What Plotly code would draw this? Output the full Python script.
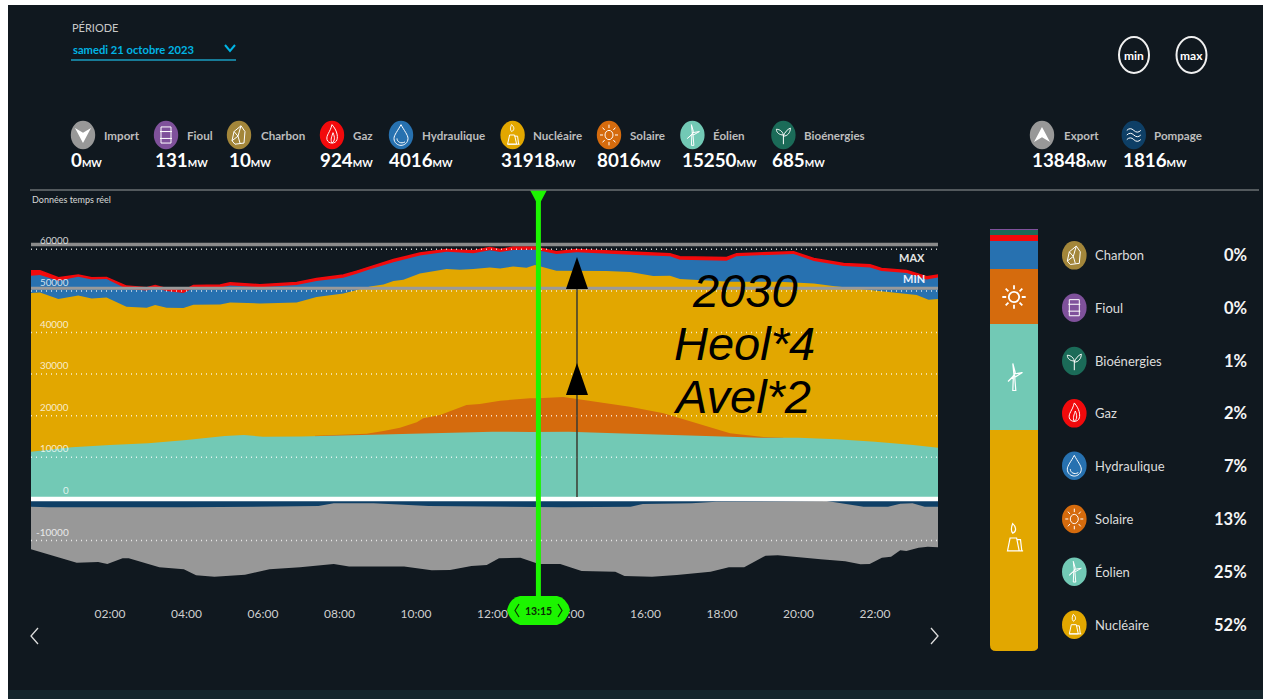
import re
import plotly.graph_objects as go

# ---------- DATA (MW) ----------
hours_gas = [-0.07,0.17,0.65,1.17,1.52,1.91,2.43,2.96,3.18,3.48,3.92,4.18,4.88,5.14,5.92,6.88,7.4,8.1,8.45,8.8,9.41,10.1,10.8,11.5,11.93,12.2,12.54,13.11,13.67,14.2,15.6,16.64,16.9,18.12,18.38,19.87,20.4,21.18,21.87,22.17,22.83,23.35,23.65]
gas_top = [54870,54870,53160,53800,53160,53240,51160,50760,51320,50600,50040,51320,51400,51960,51480,52040,53000,53800,54760,55800,57560,59090,59970,59650,60450,59970,60530,60530,59410,59970,59410,58930,58210,58050,58930,59410,57810,56610,56290,55410,54930,53410,53810]
hours_hydro = [-0.07,0.17,0.65,1.17,1.52,1.91,2.43,2.96,3.18,3.48,3.92,4.18,4.88,5.14,5.92,6.88,7.4,8.1,8.45,8.8,9.41,10.1,10.8,11.5,11.93,12.2,12.54,13.11,13.67,14.2,15.6,16.64,16.9,18.12,18.38,19.87,20.4,21.18,21.87,22.17,22.83,23.35,23.65]
hydro_top = [53640,53800,52440,53400,52760,52840,50540,50100,50700,49950,49500,50700,50800,51300,50900,51400,52400,53150,54100,55200,56900,58500,59400,59050,59750,59350,59850,59900,58850,59300,58700,58300,57500,57250,58350,58900,57200,56000,55650,54800,54300,52750,53200]
hours_nuclear = [-0.07,0.17,0.65,1.17,1.52,1.91,2.43,2.96,3.18,3.48,3.92,4.18,4.88,5.14,5.92,6.88,7.4,8.1,8.45,8.8,9.15,9.41,9.67,10.1,10.8,11.15,11.5,11.93,12.2,12.54,12.89,13.11,13.67,14.2,14.98,15.6,16.2,16.64,16.9,18.2,19.5,20.4,20.9,22.05,23.09,23.4,23.65]
nuclear_top = [49480,49640,48040,48920,48200,48440,46190,45950,46590,45950,45870,46670,46750,47230,46990,47230,48520,49400,50200,51080,51560,52360,52680,54200,55240,55080,55240,55640,55400,55880,55560,56200,54840,54840,54760,54520,53560,53640,52840,52200,52200,51800,51160,50040,49000,47880,48040]
hours_solar = [7.36,8.71,9.15,9.58,10.02,10.19,10.63,11.32,11.67,12.2,12.98,13.2,13.85,14.72,15.59,16.47,17.34,18.21,19.08,19.6]
solar_top = [15200,15680,16320,17120,18400,19360,20160,22570,22810,23610,24170,24170,24490,23370,22170,20570,18160,15760,14880,14720]
hours_wind = [-0.07,1,2,3,4,5,5.5,6,7,8,9,10,11,12,13,14,15,16,17,18,19,20,21,22,23,23.65]
wind_top = [11350,12390,12950,13350,14150,15100,15350,14950,15030,15270,15430,15750,16070,16150,16070,16150,15840,15510,15280,15030,14720,14720,14310,13750,12950,12310]
hours_pump = [-0.07,0.41,3.93,7.45,7.85,8.89,10.33,13.21,13.85,15.61,15.93,17.21,17.85,20.74,21.22,21.7,22.34,22.66,22.98,23.3,23.65]
pump_bottom = [-1870,-2030,-2030,-1710,-1070,-1070,-1710,-1870,-2030,-1870,-1230,-1070,-670,-510,-1230,-1870,-1870,-1150,-1070,-1870,-1870]
hours_export = [-0.07,1.13,1.69,1.93,2.33,2.49,3.29,3.93,4.25,4.73,5.53,6.17,6.97,7.85,8.25,9.69,10.41,10.89,11.45,11.85,12.17,12.73,13.21,13.77,14.33,15.21,15.45,16.17,16.82,17.7,18.18,18.58,19.14,19.46,20.58,21.22,21.62,21.86,22.18,22.42,22.66,22.82,23.14,23.38,23.65]
export_bottom = [-12120,-15320,-15160,-15640,-14280,-14280,-16440,-16920,-18370,-18690,-18210,-16920,-16440,-15640,-16280,-16280,-17170,-17090,-16120,-15880,-14280,-14120,-15640,-15640,-17330,-17490,-18530,-18690,-18290,-17490,-16440,-16440,-13640,-13560,-14520,-15000,-15720,-15640,-14120,-13880,-12360,-12520,-11720,-11480,-11640]

grid_values = [60000,50000,40000,30000,20000,10000,0,-10000]
max_value = 61180
min_value = 50630
cursor_hour = 13.2
cursor_label = "13:15"
tick_hours = [2,4,6,8,10,12,14,16,18,20,22]
tick_labels = ["02:00","04:00","06:00","08:00","10:00","12:00","14:00","16:00","18:00","20:00","22:00"]

top_names = ["Import","Fioul","Charbon","Gaz","Hydraulique","Nucléaire","Solaire","Éolien","Bioénergies","Export","Pompage"]
top_values = [0,131,10,924,4016,31918,8016,15250,685,13848,1816]
bar_names = ["Nucléaire","Éolien","Solaire","Hydraulique","Gaz","Bioénergies","Charbon","Fioul"]
bar_values = [31918,15250,8016,4016,924,685,10,131]
legend_names = ["Charbon","Fioul","Bioénergies","Gaz","Hydraulique","Solaire","Éolien","Nucléaire"]
legend_pct = ["0%","0%","1%","2%","7%","13%","25%","52%"]

# ---------- STYLE ----------
BG = "#10181f"
COL = {"Import":"#989898","Export":"#989898","Fioul":"#7f519b","Charbon":"#a3863a","Gaz":"#f20a0c",
       "Hydraulique":"#2771b0","Nucléaire":"#e2a700","Solaire":"#d56b0d","Éolien":"#72c9b5",
       "Bioénergies":"#1b6b58","Pompage":"#0e3f66"}
GREEN = "#1cf500"
FONT = "Lato"
ICON = {
 "Import":("M-8,-6 L0,-2 L8,-6 L0,7 Z",True),
 "Export":("M-8,6 L0,2 L8,6 L0,-7 Z",True),
 "Fioul":("M-5,-7 L5,-7 L5,7 L-5,7 Z M-6,-3 L6,-3 M-6,3 L6,3",False),
 "Charbon":("M-7,5 L-5,-3 L2,-8 L6,-3 L5,7 L-4,8 Z M-5,-3 L-1,1 L-7,5 M-1,1 L2,-8 M-1,1 L1,7",False),
 "Gaz":("M0,-9 C5,-4 6,1 5,4 C4,8 -4,8 -5,4 C-6,0 -2,-2 0,-9 Z M0,7 C-2,4 0,1 1,-2 C3,2 3,5 0,7",False),
 "Hydraulique":("M0,-9 C3,-4 7,0 7,3 C7,7 3,9 0,9 C-3,9 -7,7 -7,3 C-7,0 -3,-4 0,-9 Z M-4,3 C-4,6 0,8 4,6",False),
 "Nucléaire":("M-5,8 L-3,0 L2,0 L4,8 Z M2,1 L5,1 L6,8 M-5,8 L7,8 M-1,-3 C-3,-5 -2,-7 -1,-9 C2,-7 2,-4 -1,-3 Z",False),
 "Solaire":("M4,0 C4,2.2 2.2,4 0,4 C-2.2,4 -4,2.2 -4,0 C-4,-2.2 -2.2,-4 0,-4 C2.2,-4 4,-2.2 4,0 Z M6,0 L9,0 M-6,0 L-9,0 M0,6 L0,9 M0,-6 L0,-9 M4.3,4.3 L6.4,6.4 M-4.3,4.3 L-6.4,6.4 M4.3,-4.3 L6.4,-6.4 M-4.3,-4.3 L-6.4,-6.4",False),
 "Éolien":("M-1,9 L-0.5,-1 L0.5,-1 L1.5,9 Z M0,-1 L-1,-9 L1,-3 Z M0,-2 L7,-3 L1,0 Z M0,-1 L-5,3 L-1,0 Z",False),
 "Bioénergies":("M0,8 L0,0 M0,0 C-1,-4 -5,-5 -7,-5 C-7,-2 -4,0 0,0 M0,1 C1,-2 4,-5 7,-6 C7,-2 4,1 0,1",False),
 "Pompage":("M-7,-4 Q-3.5,-7 0,-4 Q3.5,-1 7,-4 M-7,0 Q-3.5,-3 0,0 Q3.5,3 7,0 M-7,4 Q-3.5,1 0,4 Q3.5,7 7,4",False),
}

# ---------- PIXEL HELPERS (the figure is a fixed 1263x699 page) ----------
W, H = 1263, 699
L, R, T, B = 31, 1038, 229, 651
def X(px): return (px - L) / (R - L)
def Y(py): return (B - py) / (B - T)
def val(py): return (498.9 - py) / 41.6 * 10000
def hour(px): return (px - 33.5) / 38.25

def path(d, cx=0, cy=0, sx=1, sy=1):
    out, pair = [], 0
    for tok in re.findall(r"[A-Za-z]|-?[\d.]+", d):
        if tok.isalpha():
            out.append(tok); pair = 0
        else:
            v = float(tok)
            if pair % 2 == 0:
                out.append(f"{X(cx + v * sx):.5f}")
            else:
                out.append(f"{Y(cy + v * sy):.5f}")
            pair += 1
    s = ""
    i = 0
    while i < len(out):
        t = out[i]
        if t.isalpha():
            s += (" " if s else "") + t
            i += 1
        else:
            s += f"{t},{out[i+1]} "
            i += 2
    return s.strip()

shapes, annos = [], []
def spath(d, fill=None, line=None, width=1, layer="above", **kw):
    shapes.append(dict(type="path", xref="paper", yref="paper", path=path(d, **kw), layer=layer,
                       fillcolor=fill or "rgba(0,0,0,0)",
                       line=dict(color=line or "rgba(0,0,0,0)", width=width)))
def ellipse(cx, cy, rx, ry, fill=None, line=None, width=0):
    shapes.append(dict(type="circle", xref="paper", yref="paper", layer="above",
                       x0=X(cx-rx), x1=X(cx+rx), y0=Y(cy+ry), y1=Y(cy-ry),
                       fillcolor=fill or "rgba(0,0,0,0)",
                       line=dict(color=line or "rgba(0,0,0,0)", width=width)))
def rect(x0, y0, x1, y1, fill, layer="above"):
    shapes.append(dict(type="rect", xref="paper", yref="paper", layer=layer, x0=X(x0), x1=X(x1),
                       y0=Y(y1), y1=Y(y0), fillcolor=fill, line=dict(width=0)))
def text(px, py, s, size=12, color="#ffffff", anchor="left", family=FONT):
    annos.append(dict(xref="paper", yref="paper", x=X(px), y=Y(py), text=s, showarrow=False,
                      xanchor=anchor, yanchor="middle", align=anchor, borderpad=0,
                      font=dict(size=size, color=color, family=family)))
def icon(name, cx, cy, sx=1.0, sy=1.15, width=1):
    d, solid = ICON[name]
    spath(d, fill="#ffffff" if solid else None, line="#ffffff" if not solid else None,
          width=width, cx=cx, cy=cy, sx=sx, sy=sy)

# ---------- BACKGROUND ----------
rect(8, 5, W, H, BG, layer="below")
rect(8, 690, W, H, "#15252c", layer="below")

# ---------- AREAS ----------
fig = go.Figure()
def area(name, xs, ys, lw=0):
    fig.add_trace(go.Scatter(x=xs, y=ys, name=name, mode="lines", line=dict(width=lw, color=COL[name]),
                             fill="tozeroy", fillcolor=COL[name], hoverinfo="skip", showlegend=False,
                             xaxis="x", yaxis="y", cliponaxis=True))
area("Gaz", hours_gas, gas_top, 1.5)
area("Hydraulique", hours_hydro, hydro_top)
area("Nucléaire", hours_nuclear, nuclear_top)
area("Solaire", hours_solar, solar_top)
area("Éolien", hours_wind, wind_top)
area("Export", hours_export, export_bottom)
area("Pompage", hours_pump, pump_bottom)

# ---------- STACKED COLUMN ----------
for n, v in zip(bar_names, bar_values):
    fig.add_trace(go.Bar(x=[0], y=[v], name=n, marker=dict(color=COL[n], line=dict(width=0)), width=1,
                         xaxis="x2", yaxis="y2", hoverinfo="skip", showlegend=False))

# ---------- LINES OVER AREAS ----------
x0h, x1h = hour(31), hour(938)
def hline(v, color, width, dash="solid"):
    shapes.append(dict(type="line", xref="x", yref="y", x0=x0h, x1=x1h, y0=v, y1=v, layer="above",
                       line=dict(color=color, width=width, dash=dash)))
hline(max_value, "#8a8a8a", 3.5)
hline(min_value, "#9a9a9a", 3)
hline(0, "#ffffff", 4.5)
for g in grid_values:
    if g != 0:
        hline(g, "rgba(255,255,255,0.8)", 1.5, "1px,4px")
    lab_size = 10 if g < 0 else 9.8
    annos.append(dict(xref="x", yref="y", x=hour(71), y=g, yshift=9, text=str(g), showarrow=False,
                      xanchor="right", yanchor="middle", font=dict(size=lab_size, color="rgba(255,255,255,0.8)", family=FONT)))
text(926, 257, "<b>MAX</b>", 11, "#e6e6e6", "right")
text(926, 278, "<b>MIN</b>", 11, "#eaf0ff", "right")

# arrows and big text
spath("M577,497 L577,289", line="#3a3a30", width=1.5)
spath("M577,363 L588,395 L566,395 Z", fill="#000000")
spath("M577,257 L588,289 L566,289 Z", fill="#000000")
for px, py, s in [(745, 290, "2030"), (744, 343.5, "Heol*4"), (742, 396, "Avel*2")]:
    text(px, py, f"<i>{s}</i>", 47, "#000000", "center", "Liberation Sans")

# cursor
shapes.append(dict(type="line", xref="x", yref="paper", x0=cursor_hour, x1=cursor_hour, y0=Y(600), y1=Y(190),
                   layer="above", line=dict(color=GREEN, width=5)))
spath("M530,190 L547,190 L538.5,206 Z", fill=GREEN)
spath("M520,596 L557,596 Q567,598 570,610 Q567,622 557,625 L520,625 Q510,622 507,610 Q510,598 520,596 Z", fill=GREEN)
spath("M519,604 L515,610.5 L519,617", line="#0a3a00", width=1.2)
spath("M558,604 L562,610.5 L558,617", line="#0a3a00", width=1.2)
text(538.5, 610.5, f"<b>{cursor_label}</b>", 10.5, "#0b2a05", "center")
# nav chevrons
spath("M38,628 L31,636 L38,644", line="#dddddd", width=1.3)
spath("M931,628 L938,636 L931,644", line="#dddddd", width=1.3)

# ---------- HEADER ----------
text(70.5, 27, "PÉRIODE", 11, "#c8c8c8")
text(71.5, 49, "<b>samedi 21 octobre 2023</b>", 11.2, "#00b4e4")
spath("M225,45 L230,51 L235,45", line="#00b4e4", width=2)
shapes.append(dict(type="line", xref="paper", yref="paper", x0=X(71), x1=X(236), y0=Y(60), y1=Y(60), layer="above",
                   line=dict(color="#1a9dc0", width=1.3)))
ellipse(1134, 55, 15, 18, line="#f0f0f0", width=2)
ellipse(1191.5, 55, 15, 18, line="#f0f0f0", width=2)
text(1134, 55, "<b>min</b>", 12, "#ffffff", "center")
text(1191.5, 55, "<b>max</b>", 12, "#ffffff", "center")

# ---------- TOP LEGEND ----------
cx_top = [83,166,239,332,401,512.6,609,692.4,783.4,1042,1133.8]
lx_top = [102.5,186,259.5,352,420.5,532,628.5,712,803,1062.5,1153]
vx_top = [70,153.5,227.5,319,388,499.5,596,680.5,770.5,1030.5,1121.5]
for n, v, cx, lx, vx in zip(top_names, top_values, cx_top, lx_top, vx_top):
    ellipse(cx, 135, 12.2, 14.3, fill=COL[n])
    icon(n, cx, 135)
    text(lx, 136, f"<b>{n}</b>", 11.6, "#bdbdbd")
    text(vx, 159.5, f"<b>{v}</b><span style='font-size:10px'><b>MW</b></span>", 18.8, "#ffffff")
shapes.append(dict(type="line", xref="paper", yref="paper", x0=X(30), x1=X(1259), y0=Y(190), y1=Y(190), layer="above",
                   line=dict(color="#6a6f73", width=1.5)))
text(30.5, 200, "Données temps réel", 9, "#d8d8d8")

# ---------- RIGHT COLUMN ----------
icon("Solaire", 1014, 297, 1.3, 1.3, 1.8)
icon("Éolien", 1014, 377, 1.2, 1.5, 1.2)
icon("Nucléaire", 1014, 538, 1.3, 1.6, 1.2)
spath("M990,645 L990,651 L996,651 Q990,651 990,645 Z", fill=BG)
spath("M1038.5,645 L1038.5,651 L1032,651 Q1038.5,651 1038.5,645 Z", fill=BG)
ys = [255.3,307.7,361,413.3,465.7,519,571.7,624.7]
for n, p, y in zip(legend_names, legend_pct, ys):
    ellipse(1074.3, y, 12.3, 14.3, fill=COL[n])
    icon(n, 1074.3, y)
    text(1093.5, y, n, 13, "#dcdcdc")
    text(1247.5, y, f"<b>{p}</b>", 16.5, "#f5f5f5", "right")

# ---------- LAYOUT ----------
fig.update_layout(
    width=W, height=H, autosize=False, paper_bgcolor="#ffffff", plot_bgcolor="rgba(0,0,0,0)",
    margin=dict(l=L, r=W-R, t=T, b=H-B, pad=0), barmode="stack", showlegend=False,
    shapes=shapes, annotations=annos, font=dict(family=FONT),
    xaxis=dict(domain=[0, X(938)], range=[x0h, x1h], tickvals=tick_hours, ticktext=tick_labels,
               showgrid=False, zeroline=False, showline=False, ticks="", anchor="y", fixedrange=True,
               ticklabelstandoff=3, tickfont=dict(size=12, color="#cfcfcf", family=FONT)),
    yaxis=dict(domain=[Y(602), Y(229)], range=[val(602), val(229)], visible=False, fixedrange=True, anchor="x"),
    xaxis2=dict(domain=[X(990), 1], range=[-0.5, 0.5], visible=False, anchor="y2", fixedrange=True),
    yaxis2=dict(domain=[0, 1], range=[0, sum(bar_values)], visible=False, anchor="x2", fixedrange=True),
)
fig.write_html("out.html", config=dict(displayModeBar=False),
               post_script="document.body.style.margin='0';document.body.style.overflow='hidden';")
